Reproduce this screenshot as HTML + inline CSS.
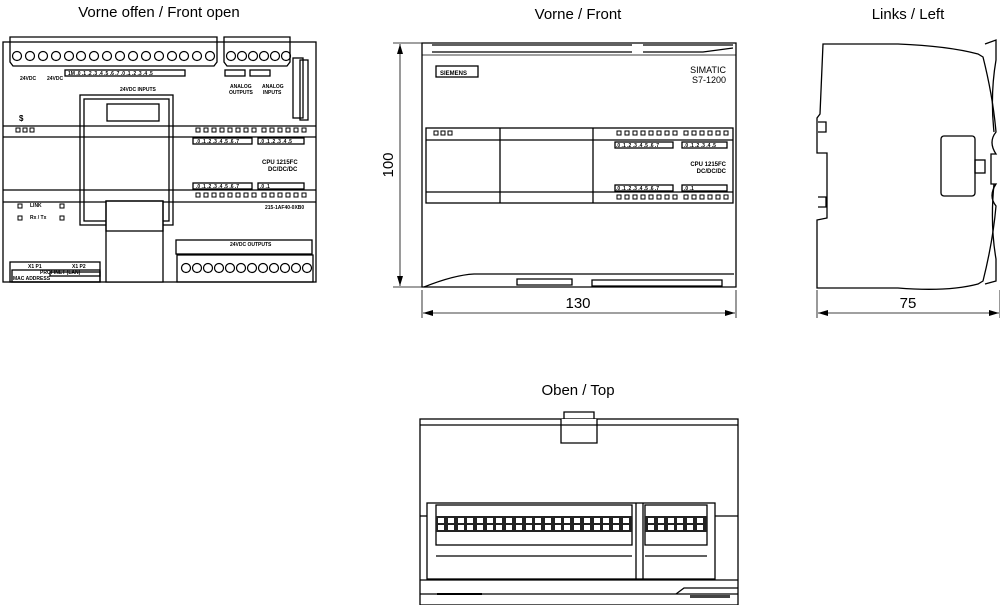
<!DOCTYPE html>
<html><head><meta charset="utf-8"><style>
html,body{margin:0;padding:0;background:#fff}
svg{display:block}
text{font-family:"Liberation Sans",sans-serif}
</style></head><body>
<svg width="1000" height="605" viewBox="0 0 1000 605" xmlns="http://www.w3.org/2000/svg">
<defs>
<marker id="ar" markerWidth="10" markerHeight="6" refX="10" refY="3" orient="auto-start-reverse" markerUnits="userSpaceOnUse"><path d="M0,0 L10,3 L0,6 z" fill="#000"/></marker>
</defs>
<g font-size="15" fill="#000">
<text x="159" y="17" text-anchor="middle">Vorne offen / Front open</text>
<text x="578" y="19" text-anchor="middle">Vorne / Front</text>
<text x="908" y="19" text-anchor="middle">Links / Left</text>
<text x="578" y="395" text-anchor="middle">Oben / Top</text>
</g>

<!-- ===== Front open ===== -->
<g fill="none" stroke="#000" stroke-width="1.3">
<rect x="3" y="42" width="313" height="240"/>
<line x1="3" y1="126" x2="316" y2="126"/><line x1="3" y1="137" x2="316" y2="137"/>
<line x1="3" y1="190" x2="316" y2="190"/><line x1="3" y1="202" x2="316" y2="202"/>
<path d="M10,37 h207 v25 l-3,4 h-201 l-3,-4 z"/>
<path d="M224,37 h66 v25 l-3,4 h-60 l-3,-4 z"/>
<rect x="80" y="95" width="93" height="130"/>
<rect x="84" y="99" width="85" height="122"/>
<rect x="107" y="104" width="52" height="17"/>
<rect x="106" y="201" width="57" height="81" fill="#fff"/>
<rect x="106" y="201" width="57" height="30"/>
<path d="M177,255 h136 v27 h-136 z"/>
<rect x="10" y="262" width="90" height="20"/>
<rect x="12" y="270" width="88" height="12"/>
<rect x="50" y="272" width="50" height="4"/>
<rect x="293" y="58" width="10" height="60"/>
<rect x="300" y="60" width="8" height="60"/>
<rect x="65" y="70" width="120" height="6"/>
<rect x="225" y="70" width="20" height="6"/><rect x="250" y="70" width="20" height="6"/>
<rect x="193" y="138" width="59" height="6"/><rect x="258" y="138" width="46" height="6"/>
<rect x="193" y="183" width="59" height="6"/><rect x="258" y="183" width="46" height="6"/>
<rect x="176" y="240" width="136" height="14"/>
</g>
<g fill="none" stroke="#000" stroke-width="1.2">
<circle cx="17" cy="56" r="4.5"/><circle cx="30" cy="56" r="4.5"/><circle cx="43" cy="56" r="4.5"/><circle cx="56" cy="56" r="4.5"/><circle cx="69" cy="56" r="4.5"/><circle cx="81" cy="56" r="4.5"/><circle cx="94" cy="56" r="4.5"/><circle cx="107" cy="56" r="4.5"/><circle cx="120" cy="56" r="4.5"/><circle cx="133" cy="56" r="4.5"/><circle cx="146" cy="56" r="4.5"/><circle cx="159" cy="56" r="4.5"/><circle cx="172" cy="56" r="4.5"/><circle cx="184" cy="56" r="4.5"/><circle cx="197" cy="56" r="4.5"/><circle cx="210" cy="56" r="4.5"/>
<circle cx="231" cy="56" r="4.5"/><circle cx="242" cy="56" r="4.5"/><circle cx="253" cy="56" r="4.5"/><circle cx="264" cy="56" r="4.5"/><circle cx="275" cy="56" r="4.5"/><circle cx="286" cy="56" r="4.5"/>
<circle cx="186" cy="268" r="4.5"/><circle cx="197" cy="268" r="4.5"/><circle cx="208" cy="268" r="4.5"/><circle cx="219" cy="268" r="4.5"/><circle cx="230" cy="268" r="4.5"/><circle cx="241" cy="268" r="4.5"/><circle cx="252" cy="268" r="4.5"/><circle cx="263" cy="268" r="4.5"/><circle cx="274" cy="268" r="4.5"/><circle cx="285" cy="268" r="4.5"/><circle cx="296" cy="268" r="4.5"/><circle cx="307" cy="268" r="4.5"/>
</g>
<g fill="none" stroke="#000" stroke-width="1">
<rect x="16" y="128" width="4" height="4"/><rect x="23" y="128" width="4" height="4"/><rect x="30" y="128" width="4" height="4"/>
<path d="M196,128h4v4h-4zM204,128h4v4h-4zM212,128h4v4h-4zM220,128h4v4h-4zM228,128h4v4h-4zM236,128h4v4h-4zM244,128h4v4h-4zM252,128h4v4h-4zM262,128h4v4h-4zM270,128h4v4h-4zM278,128h4v4h-4zM286,128h4v4h-4zM294,128h4v4h-4zM302,128h4v4h-4z"/>
<path d="M196,193h4v4h-4zM204,193h4v4h-4zM212,193h4v4h-4zM220,193h4v4h-4zM228,193h4v4h-4zM236,193h4v4h-4zM244,193h4v4h-4zM252,193h4v4h-4zM262,193h4v4h-4zM270,193h4v4h-4zM278,193h4v4h-4zM286,193h4v4h-4zM294,193h4v4h-4zM302,193h4v4h-4z"/>
<path d="M18,204h4v4h-4zM60,204h4v4h-4zM18,216h4v4h-4zM60,216h4v4h-4z"/>
</g>
<g font-size="5" font-weight="bold" fill="#000">
<text x="20" y="80">24VDC</text><text x="47" y="80">24VDC</text><text x="120" y="91">24VDC INPUTS</text>
<text x="230" y="88">ANALOG</text><text x="229" y="94">OUTPUTS</text><text x="262" y="88">ANALOG</text><text x="263" y="94">INPUTS</text>
<text x="68" y="75">1M .0 .1 .2 .3 .4 .5 .6 .7 .0 .1 .2 .3 .4 .5</text>
<text x="262" y="164" font-size="6">CPU 1215FC</text><text x="268" y="171" font-size="6">DC/DC/DC</text>
<text x="265" y="209">215-1AF40-0XB0</text>
<text x="30" y="207">LINK</text><text x="30" y="219">Rx / Tx</text>
<text x="28" y="268">X1 P1</text><text x="72" y="268">X1 P2</text><text x="40" y="274">PROFINET (LAN)</text><text x="13" y="280">MAC ADDRESS</text>
<text x="230" y="246">24VDC OUTPUTS</text>
<text x="196" y="143">.0 .1 .2 .3 .4 .5 .6 .7</text><text x="260" y="143">.0 .1 .2 .3 .4 .5</text>
<text x="196" y="188">.0 .1 .2 .3 .4 .5 .6 .7</text><text x="260" y="188">.0 .1</text>
<text x="19" y="121" font-size="8">$</text>
</g>

<!-- ===== Front ===== -->
<g fill="none" stroke="#000" stroke-width="1.3">
<path d="M422,43 h314 v244 h-314 z"/>
<path d="M432,45 h200 M432,52 h200 M643,45 h90 M643,52 h60 l30,-4"/>
<line x1="422" y1="55" x2="736" y2="55" stroke-width="0.8"/>
<rect x="426" y="128" width="307" height="75"/>
<line x1="426" y1="140" x2="733" y2="140"/><line x1="426" y1="192" x2="733" y2="192"/>
<line x1="500" y1="128" x2="500" y2="203"/><line x1="593" y1="128" x2="593" y2="203"/>
<rect x="436" y="66" width="42" height="11"/>
<path d="M424,287 q30,-12 50,-13 h260"/>
<path d="M517,279 h55 v6 h-55z M592,280 h130 v6 h-130z"/>
<rect x="615" y="142" width="58" height="6"/><rect x="682" y="142" width="45" height="6"/>
<rect x="615" y="185" width="58" height="6"/><rect x="682" y="185" width="45" height="6"/>
</g>
<g fill="none" stroke="#000" stroke-width="1">
<path d="M434,131h4v4h-4zM441,131h4v4h-4zM448,131h4v4h-4z"/>
<path d="M617,131h4v4h-4zM625,131h4v4h-4zM633,131h4v4h-4zM641,131h4v4h-4zM649,131h4v4h-4zM657,131h4v4h-4zM665,131h4v4h-4zM673,131h4v4h-4zM684,131h4v4h-4zM692,131h4v4h-4zM700,131h4v4h-4zM708,131h4v4h-4zM716,131h4v4h-4zM724,131h4v4h-4z"/>
<path d="M617,195h4v4h-4zM625,195h4v4h-4zM633,195h4v4h-4zM641,195h4v4h-4zM649,195h4v4h-4zM657,195h4v4h-4zM665,195h4v4h-4zM673,195h4v4h-4zM684,195h4v4h-4zM692,195h4v4h-4zM700,195h4v4h-4zM708,195h4v4h-4zM716,195h4v4h-4zM724,195h4v4h-4z"/>
</g>
<g fill="#000">
<text x="440" y="75" font-size="6" font-weight="bold">SIEMENS</text>
<text x="726" y="73" font-size="9" text-anchor="end">SIMATIC</text>
<text x="726" y="83" font-size="9" text-anchor="end">S7-1200</text>
<text x="726" y="166" font-size="6" font-weight="bold" text-anchor="end">CPU 1215FC</text>
<text x="726" y="173" font-size="6" font-weight="bold" text-anchor="end">DC/DC/DC</text>
<text x="616" y="147" font-size="5" font-weight="bold">.0 .1 .2 .3 .4 .5 .6 .7</text>
<text x="684" y="147" font-size="5" font-weight="bold">.0 .1 .2 .3 .4 .5</text>
<text x="616" y="190" font-size="5" font-weight="bold">.0 .1 .2 .3 .4 .5 .6 .7</text>
<text x="684" y="190" font-size="5" font-weight="bold">.0 .1</text>
</g>
<!-- dims front -->
<g stroke="#000" stroke-width="0.8" fill="none">
<line x1="393" y1="43" x2="422" y2="43"/><line x1="393" y1="287" x2="422" y2="287"/>
<line x1="400" y1="44" x2="400" y2="286" marker-start="url(#ar)" marker-end="url(#ar)"/>
<line x1="422" y1="290" x2="422" y2="318"/><line x1="736" y1="290" x2="736" y2="318"/>
<line x1="423" y1="313" x2="735" y2="313" marker-start="url(#ar)" marker-end="url(#ar)"/>
</g>
<text x="578" y="308" font-size="15" text-anchor="middle">130</text>
<text x="0" y="0" font-size="15" text-anchor="middle" transform="translate(393,165) rotate(-90)">100</text>

<!-- ===== Left ===== -->
<g fill="none" stroke="#000" stroke-width="1.3">
<path d="M823,44 h75 q50,2 80,10 l5,3 q10,40 13,75 q-8,10 0,22 l-5,0 v30 l5,0 q-8,12 0,22 q-3,35 -13,75 l-5,3 q-30,8 -80,4 h-81 v-68 l10,-2 v-65 h-10 v-35 l3,-4 z"/>
<path d="M985,44 l11,-4 v20 q-6,35 -2,72 M985,284 l11,-3 v-22 q-6,-35 -2,-75"/>
<rect x="941" y="136" width="34" height="60" rx="3"/>
<rect x="975" y="160" width="10" height="13"/>
<path d="M818,122 h8 v10 h-8 M818,207 h8 v-10 h-8"/>
</g>
<g stroke="#000" stroke-width="0.8" fill="none">
<line x1="817" y1="290" x2="817" y2="318"/><line x1="1000" y1="290" x2="1000" y2="318"/>
<line x1="818" y1="313" x2="999" y2="313" marker-start="url(#ar)" marker-end="url(#ar)"/>
</g>
<text x="908" y="308" font-size="15" text-anchor="middle">75</text>

<!-- ===== Top ===== -->
<g fill="none" stroke="#000" stroke-width="1.3">
<rect x="420" y="419" width="318" height="186"/>
<line x1="420" y1="425" x2="738" y2="425"/>
<path d="M561,419 v24 h36 v-24" fill="#fff"/>
<path d="M564,419 v-7 h30 v7"/>
<line x1="561" y1="425" x2="597" y2="425"/>
<rect x="427" y="503" width="288" height="76"/>
<line x1="420" y1="516" x2="427" y2="516"/><line x1="715" y1="516" x2="738" y2="516"/>
<rect x="436" y="505" width="196" height="40"/>
<rect x="645" y="505" width="62" height="40"/>
<line x1="436" y1="556" x2="632" y2="556"/><line x1="645" y1="556" x2="707" y2="556"/>
<line x1="636" y1="503" x2="636" y2="579"/><line x1="643" y1="503" x2="643" y2="579"/>
<line x1="420" y1="580" x2="738" y2="580"/><line x1="420" y1="594" x2="738" y2="594"/>
<path d="M676,594 l8,-6 h54"/>
</g>
<rect x="436" y="516" width="196" height="16" fill="#222"/>
<rect x="645" y="516" width="62" height="16" fill="#222"/>
<g fill="#fff">
<path d="M438,518h6v5h-6zM448,518h6v5h-6zM458,518h6v5h-6zM467,518h6v5h-6zM477,518h6v5h-6zM487,518h6v5h-6zM496,518h6v5h-6zM506,518h6v5h-6zM516,518h6v5h-6zM526,518h6v5h-6zM535,518h6v5h-6zM545,518h6v5h-6zM555,518h6v5h-6zM564,518h6v5h-6zM574,518h6v5h-6zM584,518h6v5h-6zM594,518h6v5h-6zM603,518h6v5h-6zM613,518h6v5h-6zM623,518h6v5h-6z"/>
<path d="M438,525h6v5h-6zM448,525h6v5h-6zM458,525h6v5h-6zM467,525h6v5h-6zM477,525h6v5h-6zM487,525h6v5h-6zM496,525h6v5h-6zM506,525h6v5h-6zM516,525h6v5h-6zM526,525h6v5h-6zM535,525h6v5h-6zM545,525h6v5h-6zM555,525h6v5h-6zM564,525h6v5h-6zM574,525h6v5h-6zM584,525h6v5h-6zM594,525h6v5h-6zM603,525h6v5h-6zM613,525h6v5h-6zM623,525h6v5h-6z"/>
<path d="M648,518h6v5h-6zM658,518h6v5h-6zM668,518h6v5h-6zM677,518h6v5h-6zM687,518h6v5h-6zM697,518h6v5h-6z"/>
<path d="M648,525h6v5h-6zM658,525h6v5h-6zM668,525h6v5h-6zM677,525h6v5h-6zM687,525h6v5h-6zM697,525h6v5h-6z"/>
</g>
<rect x="437" y="593" width="45" height="2" fill="#000"/>
<rect x="690" y="595" width="40" height="3" fill="#444"/>
</svg>
</body></html>
